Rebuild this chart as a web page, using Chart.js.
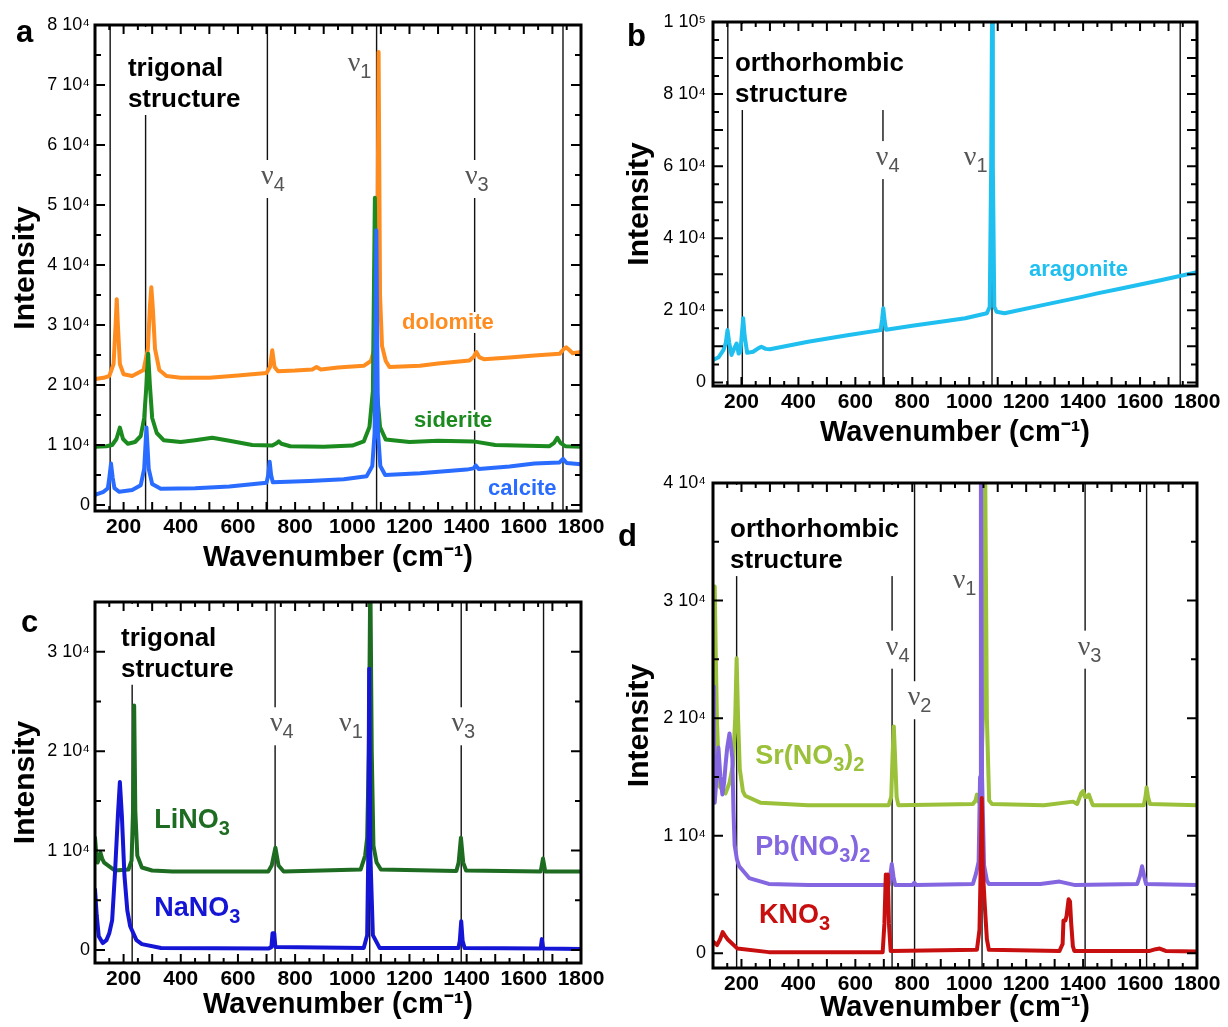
<!DOCTYPE html>
<html>
<head>
<meta charset="utf-8">
<title>Raman spectra of carbonates and nitrates</title>
<script src="https://cdn.jsdelivr.net/npm/chart.js@4.4.1/dist/chart.umd.min.js"></script>
<style>
  body { margin: 0; background: #fff; width: 1228px; height: 1027px; position: relative; overflow: hidden; }
  canvas { position: absolute; }
</style>
</head>
<body>
<canvas id="chartA" width="610" height="575" style="left:0;top:0"></canvas>
<canvas id="chartC" width="610" height="452" style="left:0;top:575px"></canvas>
<canvas id="chartB" width="628" height="460" style="left:600px;top:0"></canvas>
<canvas id="chartD" width="628" height="567" style="left:600px;top:460px"></canvas>
<script>
// ---- tick values ----
const waveTicks = [200, 400, 600, 800, 1000, 1200, 1400, 1600, 1800];
const intTicksA = [0, 10000, 20000, 30000, 40000, 50000, 60000, 70000, 80000];
const intTicksB = [0, 20000, 40000, 60000, 80000, 100000];
const intTicksC = [0, 10000, 20000, 30000];
const intTicksD = [0, 10000, 20000, 30000, 40000];

// ---- panel a: trigonal carbonates ----
const dolomiteWave = [100, 130, 150, 165, 172, 176, 180, 187, 200, 230, 270, 285, 292, 297, 302, 310, 325, 350, 400, 500, 600, 700, 712, 720, 728, 740, 800, 860, 875, 890, 950, 1040, 1065, 1080, 1087, 1092, 1097, 1104, 1117, 1130, 1237, 1300, 1410, 1425, 1434, 1445, 1460, 1550, 1637, 1725, 1740, 1748, 1760, 1771, 1800];
const dolomiteInt = [21000, 21200, 21500, 23500, 30000, 34300, 30000, 23500, 21800, 21500, 22500, 26000, 33000, 36300, 33000, 26000, 22500, 21500, 21200, 21200, 21600, 22000, 23000, 25800, 23000, 22300, 22400, 22600, 23000, 22600, 22900, 23200, 24000, 26500, 35000, 75500, 35000, 26500, 24000, 23000, 23200, 23600, 24100, 24700, 25500, 24600, 24300, 24600, 24900, 25200, 26000, 26300, 25800, 25300, 25500];

const sideriteWave = [100, 140, 160, 175, 187, 198, 215, 240, 260, 272, 280, 286, 292, 300, 316, 340, 400, 450, 510, 570, 650, 720, 735, 743, 752, 783, 900, 1000, 1040, 1060, 1072, 1079, 1086, 1097, 1117, 1200, 1300, 1424, 1500, 1690, 1705, 1717, 1729, 1745, 1800];
const sideriteInt = [9700, 9800, 10000, 11000, 12900, 11000, 10200, 10500, 11500, 14500, 20000, 25200, 20000, 14500, 12000, 10800, 10500, 10800, 11200, 10700, 10000, 9900, 10300, 10600, 10200, 9800, 9700, 9900, 10600, 13000, 19000, 51200, 19000, 13000, 10900, 10500, 10700, 10600, 10000, 9800, 10300, 11200, 10300, 9800, 9700];

const calciteWave = [100, 130, 145, 150, 156, 162, 168, 185, 230, 260, 272, 280, 288, 300, 330, 450, 570, 700, 706, 711, 716, 722, 850, 970, 1050, 1070, 1078, 1084, 1090, 1098, 1115, 1237, 1400, 1424, 1432, 1442, 1550, 1637, 1725, 1737, 1750, 1800];
const calciteInt = [1700, 2200, 2800, 4500, 6900, 4500, 2800, 2200, 2500, 3300, 6000, 12900, 6000, 3500, 2700, 2800, 3100, 3700, 5000, 7200, 5000, 3800, 4000, 4300, 4800, 6500, 12000, 45800, 12000, 6500, 5000, 5300, 5900, 6100, 6600, 6000, 6400, 6900, 7100, 7700, 7000, 6800];

// ---- panel b: orthorhombic carbonate ----
const aragoniteWave = [100, 120, 137, 145, 151, 157, 165, 175, 183, 190, 196, 201, 206, 211, 220, 241, 260, 270, 285, 300, 434, 572, 689, 694, 698, 703, 708, 800, 900, 986, 1062, 1072, 1077, 1080, 1083, 1088, 1096, 1124, 1262, 1400, 1450, 1538, 1676, 1800];
const aragoniteInt = [6200, 7000, 9000, 11000, 14500, 11000, 7600, 9500, 10800, 8000, 8500, 13000, 17800, 13000, 8200, 8500, 9500, 9900, 9300, 9200, 11300, 13100, 14500, 17500, 20600, 17000, 14600, 15700, 16800, 17800, 19200, 21000, 60000, 102000, 60000, 21000, 19600, 19200, 21500, 23800, 24700, 26100, 28400, 30600];

// ---- panel c: trigonal nitrates ----
const linoWave = [100, 105, 109, 114, 119, 125, 132, 170, 217, 228, 233, 237, 241, 248, 264, 300, 371, 706, 718, 731, 742, 760, 1029, 1045, 1052, 1058, 1063, 1068, 1074, 1085, 1100, 1364, 1372, 1380, 1388, 1398, 1659, 1667, 1675, 1800];
const linoInt = [11300, 9500, 8800, 9200, 9800, 9200, 8800, 8000, 8100, 9000, 14000, 24600, 14000, 9500, 8300, 8000, 7900, 7900, 8500, 10300, 8500, 7900, 8100, 9500, 11300, 20000, 38000, 20000, 10500, 8800, 8100, 7950, 8800, 11300, 8800, 8000, 7900, 9200, 7900, 7900];

const nanoWave = [100, 106, 113, 127, 140, 150, 160, 170, 180, 187, 194, 203, 213, 223, 245, 264, 331, 706, 717, 721, 727, 731, 1040, 1052, 1056, 1059, 1063, 1072, 1096, 1371, 1376, 1381, 1386, 1393, 1659, 1663, 1668, 1800];
const nanoInt = [6100, 3500, 1400, 700, 1000, 1700, 3000, 7800, 13500, 16900, 13500, 7500, 4000, 2400, 1000, 600, 200, 150, 300, 1700, 1700, 300, 200, 1500, 9800, 28300, 9800, 1500, 200, 200, 900, 2900, 900, 200, 150, 1100, 150, 100];

// ---- panel d: orthorhombic nitrates ----
const srWave = [100, 103, 106, 110, 114, 123, 144, 158, 170, 178, 183, 188, 194, 205, 213, 268, 434, 717, 726, 731, 735, 739, 745, 751, 1013, 1022, 1027, 1032, 1040, 1048, 1055, 1062, 1070, 1080, 1262, 1365, 1379, 1393, 1400, 1406, 1413, 1420, 1434, 1613, 1619, 1623, 1628, 1635, 1800];
const srInt = [15400, 25000, 31200, 25000, 19600, 14200, 13600, 14500, 16000, 20000, 25100, 20000, 15700, 13800, 13400, 12800, 12600, 12600, 13300, 17000, 19300, 17000, 13300, 12600, 12700, 13000, 13500, 12900, 13500, 20000, 45000, 20000, 13000, 12700, 12600, 12900, 12700, 13600, 13800, 13300, 13300, 13500, 12600, 12600, 13300, 14100, 13300, 12700, 12600];

const pbWave = [100, 103, 106, 112, 119, 126, 133, 139, 144, 150, 158, 164, 168, 172, 176, 184, 192, 227, 296, 434, 717, 722, 728, 734, 740, 800, 807, 814, 1013, 1024, 1033, 1038, 1041, 1045, 1052, 1062, 1069, 1250, 1317, 1372, 1590, 1600, 1607, 1614, 1621, 1800];
const pbInt = [22700, 15000, 12800, 14800, 17500, 15000, 13500, 14500, 16000, 17500, 18700, 17500, 16600, 12000, 9200, 8000, 7400, 6400, 5900, 5800, 5800, 6500, 7600, 6500, 5800, 5800, 6000, 5800, 5900, 6800, 7800, 15000, 45000, 15000, 7500, 6200, 5900, 5900, 6100, 5800, 5900, 6600, 7400, 6600, 5900, 5800];

const knoWave = [100, 114, 125, 134, 142, 151, 186, 296, 696, 702, 707, 711, 714, 718, 724, 1027, 1036, 1040, 1044, 1048, 1055, 1062, 1069, 1317, 1328, 1331, 1338, 1342, 1349, 1354, 1358, 1364, 1369, 1634, 1655, 1669, 1690, 1800];
const knoInt = [1000, 700, 1200, 1800, 1500, 1200, 400, 100, 100, 2500, 6700, 6300, 6700, 2500, 200, 300, 2000, 7000, 13200, 7000, 3900, 1200, 300, 200, 800, 2800, 2800, 3200, 4600, 4400, 2600, 600, 200, 200, 350, 400, 200, 150];

// ---- vibrational mode markers (cm-1) ----
const modeLinesA = [153, 277, 703, 1085, 1428, 1737];
const modeLinesB = [152, 203, 697, 1080, 1741];
const modeLinesC = [230, 730, 1061, 1381, 1669];
const modeLinesD = [183, 729, 808, 1045, 1407, 1623];

const SANS = '"Liberation Sans", Arial, Helvetica, sans-serif';
const SERIF = '"Liberation Serif", "Times New Roman", serif';
const SUP = { 4: '\u2074', 5: '\u2075' };

function sciLabel(v) {
  if (v === 0) return '0';
  const e = Math.floor(Math.log10(v) + 1e-9);
  return Math.round(v / Math.pow(10, e)) + ' 10' + SUP[e];
}

// text with "_3" style subscripts; returns drawn width
function drawRich(ctx, text, x, y, font, subFont, drop, measureOnly) {
  const parts = text.split(/_(\d)/);
  let cx = x;
  parts.forEach((p, i) => {
    if (!p) return;
    ctx.font = i % 2 ? subFont : font;
    if (!measureOnly) ctx.fillText(p, cx, i % 2 ? y + drop : y);
    cx += ctx.measureText(p).width;
  });
  return cx - x;
}

function makePanel(p) {
  const decor = {
    id: 'decor',
    beforeDatasetsDraw(chart) {
      const { ctx, chartArea: a, scales: { x, y } } = chart;
      ctx.save();
      // mode lines
      ctx.strokeStyle = '#111';
      ctx.lineWidth = 1.4;
      p.modeLines.forEach(v => {
        const px = x.getPixelForValue(v);
        ctx.beginPath();
        ctx.moveTo(px, a.top);
        ctx.lineTo(px, a.bottom);
        ctx.stroke();
      });
      ctx.textBaseline = 'alphabetic';
      ctx.textAlign = 'left';

      // structure heading, white box runs up to the frame
      const hx = x.getPixelForValue(p.heading.x);
      const hy = y.getPixelForValue(p.heading.y);
      ctx.font = 'bold 26px ' + SANS;
      const hw = Math.max(...p.heading.lines.map(t => ctx.measureText(t).width));
      ctx.fillStyle = '#fff';
      ctx.fillRect(hx - 4, a.top + 2, hw + 8, hy + 31 * (p.heading.lines.length - 1) + 8 - a.top - 2);
      ctx.fillStyle = '#000';
      p.heading.lines.forEach((t, i) => ctx.fillText(t, hx, hy + 31 * i));

      // nu labels
      p.modes.forEach(m => {
        const px = x.getPixelForValue(m.x);
        const py = y.getPixelForValue(m.y);
        ctx.font = '28px ' + SERIF;
        const nw = ctx.measureText('\u03bd').width;
        const w = drawRich(ctx, '\u03bd_' + m.sub, 0, 0, '28px ' + SERIF, '20px ' + SANS, 7, true);
        ctx.fillStyle = '#fff';
        ctx.fillRect(px - nw / 2 - 3, py - 24, w + 6, 38);
        ctx.fillStyle = '#555';
        drawRich(ctx, '\u03bd_' + m.sub, px - nw / 2, py, '28px ' + SERIF, '20px ' + SANS, 7);
      });

      // sample names
      p.names.forEach(n => {
        const px = x.getPixelForValue(n.x);
        const py = y.getPixelForValue(n.y);
        const f = 'bold ' + n.size + 'px ' + SANS;
        const sf = 'bold ' + Math.round(n.size * 0.75) + 'px ' + SANS;
        const w = drawRich(ctx, n.text, 0, 0, f, sf, 7, true);
        ctx.fillStyle = '#fff';
        ctx.fillRect(px - 2, py - n.size * 0.78, w + 4, n.size * 0.95);
        ctx.fillStyle = n.color;
        drawRich(ctx, n.text, px, py, f, sf, 7);
      });

      // panel letter
      ctx.fillStyle = '#000';
      ctx.font = 'bold 31px ' + SANS;
      ctx.fillText(p.letter.text, p.letter.x, p.letter.y);
      ctx.restore();
    },
    afterDatasetsDraw(chart) {
      const { ctx, chartArea: a, scales: { x, y } } = chart;
      ctx.save();
      ctx.strokeStyle = '#000';
      ctx.lineWidth = 2;
      ctx.beginPath();
      for (let v = 100; v <= 1800; v += 50) {
        const px = x.getPixelForValue(v);
        const len = v % 100 === 0 ? 9 : 5;
        ctx.moveTo(px, a.bottom); ctx.lineTo(px, a.bottom - len);
        ctx.moveTo(px, a.top); ctx.lineTo(px, a.top + len);
      }
      for (let v = 0; v <= p.yMax; v += 5000) {
        const py = y.getPixelForValue(v);
        const len = v % 10000 === 0 ? 10 : 6;
        ctx.moveTo(a.left, py); ctx.lineTo(a.left + len, py);
        ctx.moveTo(a.right, py); ctx.lineTo(a.right - len, py);
      }
      ctx.stroke();
      ctx.lineWidth = 3;
      ctx.strokeRect(a.left, a.top, a.right - a.left, a.bottom - a.top);
      ctx.restore();
    }
  };

  return new Chart(document.getElementById(p.canvas), {
    type: 'line',
    data: {
      datasets: p.series.map(s => ({
        data: s.wave.map((w, i) => ({ x: w, y: s.int[i] })),
        borderColor: s.color,
        borderWidth: 4,
        borderJoinStyle: 'round',
        borderCapStyle: 'round',
        pointRadius: 0,
        tension: 0,
        fill: false
      }))
    },
    options: {
      responsive: false,
      animation: false,
      events: [],
      layout: { padding: p.pad },
      plugins: { legend: { display: false }, tooltip: { enabled: false } },
      scales: {
        x: {
          type: 'linear', min: 100, max: 1800,
          grid: { display: false, drawTicks: false },
          border: { display: false },
          afterBuildTicks: s => { s.ticks = waveTicks.map(v => ({ value: v })); },
          afterFit: s => { s.height = p.xAxisHeight; s.paddingLeft = 0; s.paddingRight = 0; },
          ticks: { color: '#000', padding: 4, maxRotation: 0, autoSkip: false,
                   font: { family: SANS, size: 21, weight: 'bold' }, callback: v => String(v) },
          title: { display: true, text: 'Wavenumber (cm\u207b\u00b9)', color: '#000',
                   font: { family: SANS, size: 29, weight: 'bold' },
                   padding: { top: 0, bottom: p.xTitlePad } }
        },
        y: {
          type: 'linear', min: p.yMin, max: p.yMax,
          grid: { display: false, drawTicks: false },
          border: { display: false },
          afterBuildTicks: s => { s.ticks = p.yTicks.map(v => ({ value: v })); },
          afterFit: s => { s.width = p.yAxisWidth; s.paddingTop = 0; s.paddingBottom = 0; },
          ticks: { color: '#000', padding: p.yTickPad, autoSkip: false,
                   font: { family: SANS, size: 18 }, callback: v => sciLabel(v) },
          title: { display: true, text: 'Intensity', color: '#000',
                   font: { family: SANS, size: 30, weight: 'bold' },
                   padding: { top: p.yTitlePad, bottom: 0 } }
        }
      }
    },
    plugins: [decor]
  });
}

makePanel({
  canvas: 'chartA', yMin: -1000, yMax: 80000, yTicks: intTicksA,
  pad: { left: 0, right: 29, top: 25, bottom: 0 },
  yAxisWidth: 95, xAxisHeight: 64, xTitlePad: 0, yTitlePad: 8, yTickPad: 5,
  series: [
    { wave: calciteWave, int: calciteInt, color: '#2a6cff' },
    { wave: sideriteWave, int: sideriteInt, color: '#1b8a1f' },
    { wave: dolomiteWave, int: dolomiteInt, color: '#ff8c1e' }
  ],
  modeLines: modeLinesA,
  letter: { text: 'a', x: 16, y: 42 },
  heading: { lines: ['trigonal', 'structure'], x: 215, y: 71500 },
  modes: [
    { sub: '1', x: 1006, y: 72300 },
    { sub: '4', x: 703, y: 53500 },
    { sub: '3', x: 1416, y: 53500 }
  ],
  names: [
    { text: 'dolomite', x: 1174, y: 29300, size: 22, color: '#ff8c1e' },
    { text: 'siderite', x: 1216, y: 13000, size: 22, color: '#1b8a1f' },
    { text: 'calcite', x: 1475, y: 1700, size: 22, color: '#2a6cff' }
  ]
});

makePanel({
  canvas: 'chartB', yMin: -1000, yMax: 100000, yTicks: intTicksB,
  pad: { left: 0, right: 31, top: 22, bottom: 0 },
  yAxisWidth: 113, xAxisHeight: 74, xTitlePad: 10, yTitlePad: 22, yTickPad: 7,
  series: [
    { wave: aragoniteWave, int: aragoniteInt, color: '#1fbff0' }
  ],
  modeLines: modeLinesB,
  letter: { text: 'b', x: 27, y: 46 },
  heading: { lines: ['orthorhombic', 'structure'], x: 177, y: 86400 },
  modes: [
    { sub: '4', x: 694, y: 60300 },
    { sub: '1', x: 1003, y: 60300 }
  ],
  names: [
    { text: 'aragonite', x: 1210, y: 29500, size: 22, color: '#1fbff0' }
  ]
});

makePanel({
  canvas: 'chartC', yMin: -1300, yMax: 35000, yTicks: intTicksC,
  pad: { left: 0, right: 29, top: 27, bottom: 0 },
  yAxisWidth: 95, xAxisHeight: 64, xTitlePad: 5, yTitlePad: 8, yTickPad: 5,
  series: [
    { wave: nanoWave, int: nanoInt, color: '#1515d6' },
    { wave: linoWave, int: linoInt, color: '#1e6b22' }
  ],
  modeLines: modeLinesC,
  letter: { text: 'c', x: 21, y: 57 },
  heading: { lines: ['trigonal', 'structure'], x: 191, y: 30600 },
  modes: [
    { sub: '4', x: 734, y: 22000 },
    { sub: '1', x: 976, y: 22000 },
    { sub: '3', x: 1369, y: 22000 }
  ],
  names: [
    { text: 'LiNO_3', x: 307, y: 12300, size: 27, color: '#1e6b22' },
    { text: 'NaNO_3', x: 307, y: 3400, size: 27, color: '#1515d6' }
  ]
});

makePanel({
  canvas: 'chartD', yMin: -1250, yMax: 40000, yTicks: intTicksD,
  pad: { left: 0, right: 31, top: 23, bottom: 0 },
  yAxisWidth: 113, xAxisHeight: 59, xTitlePad: 2, yTitlePad: 22, yTickPad: 7,
  series: [
    { wave: knoWave, int: knoInt, color: '#c80f0f' },
    { wave: pbWave, int: pbInt, color: '#8467e0' },
    { wave: srWave, int: srInt, color: '#9bc13a' }
  ],
  modeLines: modeLinesD,
  letter: { text: 'd', x: 18, y: 86 },
  heading: { lines: ['orthorhombic', 'structure'], x: 160, y: 35400 },
  modes: [
    { sub: '1', x: 964, y: 31100 },
    { sub: '4', x: 729, y: 25400 },
    { sub: '2', x: 806, y: 21100 },
    { sub: '3', x: 1403, y: 25400 }
  ],
  names: [
    { text: 'Sr(NO_3)_2', x: 248, y: 16100, size: 27, color: '#9bc13a' },
    { text: 'Pb(NO_3)_2', x: 248, y: 8400, size: 27, color: '#8467e0' },
    { text: 'KNO_3', x: 262, y: 2600, size: 27, color: '#c80f0f' }
  ]
});
</script>
</body>
</html>
